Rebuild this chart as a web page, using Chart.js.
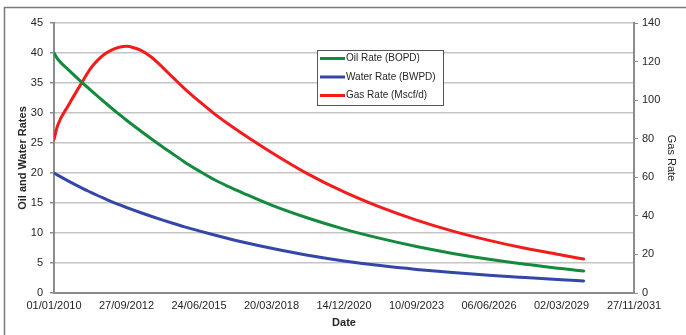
<!DOCTYPE html>
<html><head><meta charset="utf-8">
<script src="https://cdn.jsdelivr.net/npm/chart.js@4/dist/chart.umd.min.js"></script>
<style>html,body{margin:0;padding:0;background:#fff;}canvas{display:block}</style>
</head><body>
<canvas id="c" width="686" height="335"></canvas>
<script>
// Days since 01/01/2010
const days = [0, 50, 200, 400, 500, 600, 700, 800, 900, 1000, 1100, 1200, 1350, 1500, 1650, 1800, 2000, 2200, 2400, 2600, 3000, 3500, 4000, 4500, 5000, 5500, 6000, 6500, 7000, 7305];
const xTickLabels = ['01/01/2010','27/09/2012','24/06/2015','20/03/2018','14/12/2020','10/09/2023','06/06/2026','02/03/2029','27/11/2031'];
const oilRate   = [40.0, 39.0, 37.2, 34.95, 33.87, 32.8, 31.77, 30.75, 29.77, 28.8, 27.87, 26.96, 25.63, 24.34, 23.1, 21.85, 20.35, 18.95, 17.78, 16.7, 14.65, 12.5, 10.65, 9.1, 7.75, 6.6, 5.62, 4.78, 4.07, 3.65];
const waterRate = [20.0, 19.65, 18.65, 17.4, 16.82, 16.25, 15.72, 15.2, 14.72, 14.25, 13.8, 13.37, 12.75, 12.15, 11.58, 11.03, 10.35, 9.7, 9.08, 8.5, 7.45, 6.3, 5.35, 4.57, 3.93, 3.4, 2.96, 2.58, 2.22, 2.02];
const gasRate   = [79.6, 86.8, 97.4, 110.1, 116.2, 120.6, 123.9, 126.1, 127.4, 127.9, 127.2, 125.8, 122.1, 116.9, 111.4, 106.0, 99.45, 93.3, 87.75, 82.6, 72.9, 61.8, 52.4, 44.5, 37.8, 32.1, 27.3, 23.2, 19.7, 17.6];
const seriesLabels = ['Oil Rate (BOPD)', 'Water Rate (BWPD)', 'Gas Rate (Mscf/d)'];
const seriesColors = ['#138a3c', '#3447a8', '#f21c1c'];

const FONT = "'Liberation Sans', Arial, sans-serif";
const TXT = '#262626';
const AXIS = '#8c8c8c';
const pts = arr => days.map((d, i) => ({x: d, y: arr[i]}));

const framePlugin = {
  id: 'frame',
  beforeDraw(chart) {
    const ctx = chart.ctx;
    ctx.save();
    ctx.fillStyle = '#fff';
    ctx.fillRect(0, 0, chart.width, chart.height);
    ctx.strokeStyle = '#7a7a7a';
    ctx.lineWidth = 1.5;
    ctx.strokeRect(4.5, 7.5, chart.width + 20, chart.height + 20);
    ctx.restore();
  },
  afterDraw(chart) {
    const ctx = chart.ctx;
    ctx.save();
    const bx = 317, by = 50, bw = 126, bh = 55;
    ctx.fillStyle = '#fff';
    ctx.fillRect(bx, by, bw, bh);
    ctx.strokeStyle = '#555';
    ctx.lineWidth = 1;
    ctx.strokeRect(bx + 0.5, by + 0.5, bw, bh);
    ctx.font = '10px ' + FONT;
    ctx.textBaseline = 'middle';
    ctx.textAlign = 'left';
    chart.data.datasets.forEach((ds, i) => {
      const y = by + 8.5 + i * 18.5;
      ctx.strokeStyle = ds.borderColor;
      ctx.lineWidth = 3;
      ctx.beginPath();
      ctx.moveTo(bx + 3, y);
      ctx.lineTo(bx + 28, y);
      ctx.stroke();
      ctx.fillStyle = TXT;
      ctx.fillText(ds.label, bx + 29, y);
    });
    ctx.restore();
  }
};

Chart.defaults.font.family = FONT;
Chart.defaults.font.size = 11;
Chart.defaults.color = TXT;

new Chart(document.getElementById('c'), {
  type: 'line',
  data: {
    datasets: [
      {label: seriesLabels[0], data: pts(oilRate), borderColor: seriesColors[0], yAxisID: 'y'},
      {label: seriesLabels[1], data: pts(waterRate), borderColor: seriesColors[1], yAxisID: 'y'},
      {label: seriesLabels[2], data: pts(gasRate), borderColor: seriesColors[2], yAxisID: 'y1'}
    ].map(d => Object.assign(d, {borderWidth: 3, pointRadius: 0, fill: false, cubicInterpolationMode: 'monotone', borderJoinStyle: 'round', borderCapStyle: 'round'}))
  },
  options: {
    responsive: false,
    animation: false,
    devicePixelRatio: 1,
    layout: {padding: {top: 23, left: 0, right: 0, bottom: 0}},
    plugins: {legend: {display: false}, tooltip: {enabled: false}},
    scales: {
      x: {
        type: 'linear', min: 0, max: 8000,
        afterFit(s) { s.height = 42; },
        ticks: {stepSize: 1000, autoSkip: false, maxRotation: 0, padding: 6,
          callback: (v, i) => xTickLabels[i], color: TXT, font: {size: 11}},
        grid: {display: false, tickLength: 0, drawTicks: false},
        border: {display: true, color: AXIS, width: 2},
        title: {display: true, text: 'Date', color: TXT, font: {size: 11, weight: 'bold'}, padding: {top: 0, bottom: 5}}
      },
      y: {
        position: 'left', min: 0, max: 45,
        afterFit(s) { s.width = 54; },
        ticks: {stepSize: 5, padding: 7, color: TXT, font: {size: 11}},
        grid: {color: '#c4c4c4', lineWidth: 1.5, tickLength: 4, tickColor: AXIS},
        border: {color: AXIS, width: 2},
        title: {display: true, text: 'Oil and Water Rates', color: TXT, font: {size: 11, weight: 'bold'}, padding: {top: 16, bottom: 0}}
      },
      y1: {
        position: 'right', min: 0, max: 140,
        afterFit(s) { s.width = 52; },
        ticks: {stepSize: 20, padding: 4, color: TXT, font: {size: 11}},
        grid: {drawOnChartArea: false, tickLength: 4, color: AXIS},
        border: {color: AXIS, width: 2},
        title: {display: true, text: 'Gas Rate', color: TXT, font: {size: 11}, padding: {top: 8, bottom: 0}}
      }
    }
  },
  plugins: [framePlugin]
});
</script>
</body></html>
